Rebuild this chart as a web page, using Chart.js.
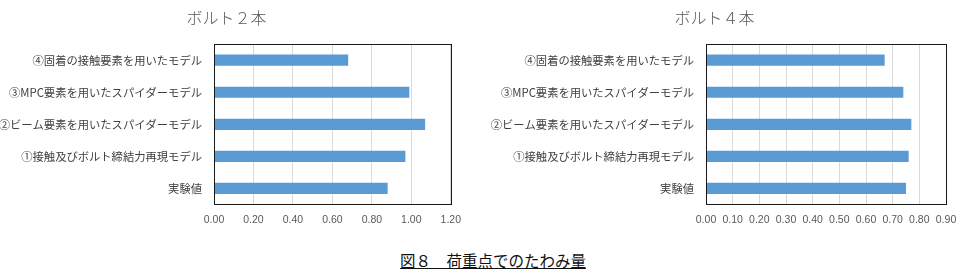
<!DOCTYPE html>
<html>
<head>
<meta charset="utf-8">
<script src="https://cdn.jsdelivr.net/npm/chart.js@4"></script>
<style>
  body { margin: 0; background: #fff; width: 966px; height: 273px; position: relative; overflow: hidden; }
  .box { position: absolute; top: 0; }
  #caption {
    position: absolute; left: 400px; top: 250px;
    font-family: "Noto Sans CJK JP", sans-serif; font-size: 15.5px; line-height: 20px;
    color: #111; text-decoration: underline; white-space: nowrap;
  }
</style>
</head>
<body>
<div class="box" style="left:0px;width:470px;height:235px"><canvas id="chart2"></canvas></div>
<div class="box" style="left:483px;width:483px;height:235px"><canvas id="chart4"></canvas></div>
<div id="caption">図８　荷重点でのたわみ量</div>
<script>
const categories = [
  "④固着の接触要素を用いたモデル",
  "③MPC要素を用いたスパイダーモデル",
  "②ビーム要素を用いたスパイダーモデル",
  "①接触及びボルト締結力再現モデル",
  "実験値"
];
const bolt2Values = [0.68, 0.99, 1.07, 0.97, 0.88];
const bolt4Values = [0.67, 0.74, 0.77, 0.76, 0.75];
const bolt2Title = "ボルト２本";
const bolt4Title = "ボルト４本";
const bolt2Axis = { max: 1.2, step: 0.2 };
const bolt4Axis = { max: 0.9, step: 0.1 };

// black frame round the plot area, like the excel original
const frame = {
  id: "frame",
  afterDraw(chart) {
    const a = chart.chartArea;
    const ctx = chart.ctx;
    ctx.save();
    ctx.strokeStyle = "#1a1a1a";
    ctx.lineWidth = 1;
    ctx.strokeRect(Math.round(a.left) + 0.5, Math.round(a.top) + 0.5,
      Math.round(a.right - a.left), Math.round(a.bottom - a.top));
    ctx.restore();
  }
};

function makeChart(id, title, values, axis, yWidth, padRight) {
  return new Chart(document.getElementById(id), {
    type: "bar",
    data: {
      labels: categories,
      datasets: [{
        data: values,
        backgroundColor: "#5b9bd5",
        barPercentage: 0.35,
        categoryPercentage: 1
      }]
    },
    options: {
      indexAxis: "y",
      responsive: true,
      maintainAspectRatio: false,
      animation: false,
      layout: { padding: { left: 0, right: padRight, top: 0, bottom: 0 } },
      plugins: {
        legend: { display: false },
        tooltip: { enabled: false },
        title: {
          display: true,
          text: title,
          color: "#595959",
          font: { family: "Noto Sans CJK JP", size: 16, weight: 300, lineHeight: 1.2 },
          padding: { top: 8, bottom: 17 }
        }
      },
      scales: {
        x: {
          min: 0,
          max: axis.max,
          ticks: {
            stepSize: axis.step,
            padding: 9,
            color: "#595959",
            font: { family: "Liberation Sans", size: 10.5 },
            callback: (v) => Number(v).toFixed(2)
          },
          grid: { color: "#d9d9d9", drawTicks: false },
          border: { color: "#1a1a1a" }
        },
        y: {
          ticks: {
            padding: 12,
            color: "#404040",
            font: { family: "Noto Sans CJK JP", size: 11.3 }
          },
          grid: { display: false, drawTicks: false },
          border: { color: "#1a1a1a" },
          afterFit(scale) { scale.width = yWidth; }
        }
      }
    },
    plugins: [frame]
  });
}

makeChart("chart2", bolt2Title, bolt2Values, bolt2Axis, 214, 17);
makeChart("chart4", bolt4Title, bolt4Values, bolt4Axis, 223, 20);
</script>
</body>
</html>
